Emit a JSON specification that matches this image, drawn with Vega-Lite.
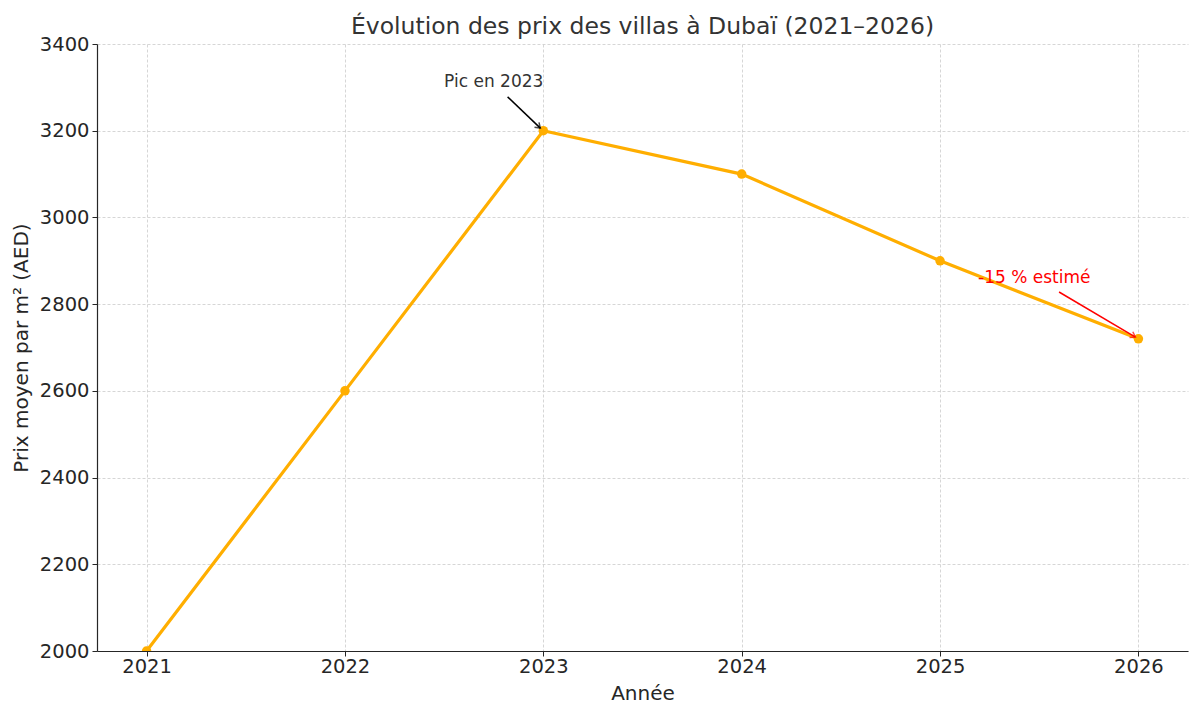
{
  "$schema": "https://vega.github.io/schema/vega-lite/v6.json",
  "width": 1091,
  "height": 607,
  "autosize": "none",
  "padding": {"left": 97, "top": 44, "right": 12, "bottom": 65},
  "background": "white",
  "config": {
    "view": {"stroke": null},
    "font": "DejaVu Sans",
    "axis": {
      "labelFont": "DejaVu Sans",
      "titleFont": "DejaVu Sans",
      "labelFontSize": 19.5,
      "titleFontSize": 20,
      "labelColor": "#262626",
      "titleColor": "#262626",
      "titleFontWeight": "normal",
      "domainColor": "#262626",
      "domainWidth": 1.2,
      "tickColor": "#262626",
      "tickSize": 5,
      "tickWidth": 1,
      "gridColor": "#cccccc",
      "gridDash": [3, 2],
      "gridWidth": 0.8
    }
  },
  "title": {
    "text": "Évolution des prix des villas à Dubaï (2021–2026)",
    "font": "DejaVu Sans",
    "fontSize": 23.5,
    "fontWeight": "normal",
    "color": "#333333",
    "anchor": "middle",
    "offset": -4
  },
  "layer": [
    {
      "data": {"values": [
        {"annee": 2021, "prix": 2000},
        {"annee": 2022, "prix": 2600},
        {"annee": 2023, "prix": 3200},
        {"annee": 2024, "prix": 3100},
        {"annee": 2025, "prix": 2900},
        {"annee": 2026, "prix": 2720}
      ]},
      "mark": {"type": "line", "color": "#FFAE00", "strokeWidth": 3.2, "point": {"filled": true, "size": 90, "color": "#FFAE00"}, "clip": true},
      "encoding": {
        "x": {
          "field": "annee", "type": "quantitative",
          "scale": {"domain": [2020.75, 2026.25], "nice": false, "zero": false},
          "axis": {"title": "Année", "values": [2021, 2022, 2023, 2024, 2025, 2026], "format": "d", "labelPadding": 1, "titlePadding": 8, "labelFlush": false}
        },
        "y": {
          "field": "prix", "type": "quantitative",
          "scale": {"domain": [2000, 3400], "nice": false, "zero": false},
          "axis": {"title": "Prix moyen par m² (AED)", "values": [2000, 2200, 2400, 2600, 2800, 3000, 3200, 3400], "format": "d", "labelPadding": 3, "titlePadding": 8, "labelFlush": false}
        }
      }
    },
    {
      "data": {"values": [{"annee": 2022.82, "prix": 3278, "annee2": 2022.985, "prix2": 3206}]},
      "mark": {"type": "rule", "color": "black", "strokeWidth": 1.5},
      "encoding": {
        "x": {"field": "annee", "type": "quantitative"},
        "y": {"field": "prix", "type": "quantitative"},
        "x2": {"field": "annee2"},
        "y2": {"field": "prix2"}
      }
    },
    {
      "data": {"values": [{"annee": 2022.985, "prix": 3206}]},
      "mark": {"type": "point", "shape": "M-0.6,0.9L0,0L0.6,0.9", "filled": false, "stroke": "black", "strokeWidth": 1.5, "size": 120, "angle": 133},
      "encoding": {
        "x": {"field": "annee", "type": "quantitative"},
        "y": {"field": "prix", "type": "quantitative"}
      }
    },
    {
      "data": {"values": [{"annee": 2025.6, "prix": 2828, "annee2": 2025.985, "prix2": 2724}]},
      "mark": {"type": "rule", "color": "red", "strokeWidth": 1.5},
      "encoding": {
        "x": {"field": "annee", "type": "quantitative"},
        "y": {"field": "prix", "type": "quantitative"},
        "x2": {"field": "annee2"},
        "y2": {"field": "prix2"}
      }
    },
    {
      "data": {"values": [{"annee": 2025.985, "prix": 2724}]},
      "mark": {"type": "point", "shape": "M-0.6,0.9L0,0L0.6,0.9", "filled": false, "stroke": "red", "strokeWidth": 1.5, "size": 120, "angle": 120},
      "encoding": {
        "x": {"field": "annee", "type": "quantitative"},
        "y": {"field": "prix", "type": "quantitative"}
      }
    },
    {
      "data": {"values": [
        {"annee": 2022.75, "prix": 3312, "texte": "Pic en 2023"}
      ]},
      "mark": {"type": "text", "font": "DejaVu Sans", "fontSize": 17, "color": "#333333", "align": "center", "baseline": "middle"},
      "encoding": {
        "x": {"field": "annee", "type": "quantitative"},
        "y": {"field": "prix", "type": "quantitative"},
        "text": {"field": "texte"}
      }
    },
    {
      "data": {"values": [
        {"annee": 2025.475, "prix": 2860, "texte": "-15 % estimé"}
      ]},
      "mark": {"type": "text", "font": "DejaVu Sans", "fontSize": 17, "color": "red", "align": "center", "baseline": "middle"},
      "encoding": {
        "x": {"field": "annee", "type": "quantitative"},
        "y": {"field": "prix", "type": "quantitative"},
        "text": {"field": "texte"}
      }
    }
  ]
}
